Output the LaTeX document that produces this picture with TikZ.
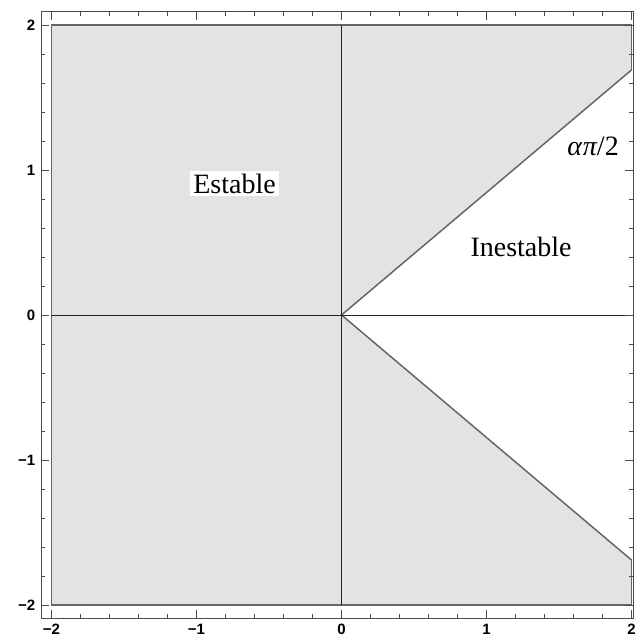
\documentclass[tikz,border=0pt]{standalone}
\usepackage{fontspec}
\setmainfont{Liberation Serif}
\newfontfamily\ticksfont{Liberation Sans}
\tikzset{
  region/.style={line width=1.8pt, black!60},
  axisline/.style={line width=0.9pt, black!85},
  frameline/.style={line width=0.9pt, black!70},
  ticklabel/.style={inner sep=0pt, font=\ticksfont\bfseries\fontsize{15}{17}\selectfont},
  bigtext/.style={font=\fontsize{28}{30}\selectfont}
}

\begin{document}
\begin{tikzpicture}[x=145pt, y=145pt]
\useasboundingbox (-2.355,-2.241) rectangle (2.024,2.172);
% stable region (shaded)
\fill[gray!22] (-2,-2) -- (2,-2) -- (2,-1.69) -- (0,0) -- (2,1.69) -- (2,2) -- (-2,2) -- cycle;
\draw[region, line width=1.5pt] (2,1.69) -- (0,0) -- (2,-1.69);
\draw[region] (2,1.69) -- (2,2) -- (-2,2) -- (-2,-2) -- (2,-2) -- (2,-1.69);
% axes
\draw[axisline] (-2,0) -- (2,0);
\draw[axisline] (0,-2) -- (0,2);
% frame and ticks
\draw[frameline] (-2.072,-2.090) rectangle (2.010,2.090);
\foreach \t in {-2,-1.8,...,2.01} {
  \draw[frameline, line width=0.6pt] (\t,-2.090) -- ++(0,0.03);
  \draw[frameline, line width=0.6pt] (\t,2.090) -- ++(0,-0.03);
  \draw[frameline, line width=0.6pt] (-2.072,\t) -- ++(0.03,0);
  \draw[frameline, line width=0.6pt] (2.010,\t) -- ++(-0.03,0);
}
\foreach \t in {-2,-1,0,1,2} {
  \draw[frameline, line width=0.6pt] (\t,-2.090) -- ++(0,0.055);
  \draw[frameline, line width=0.6pt] (\t,2.090) -- ++(0,-0.055);
  \draw[frameline, line width=0.6pt] (-2.072,\t) -- ++(0.055,0);
  \draw[frameline, line width=0.6pt] (2.010,\t) -- ++(-0.055,0);
}
% tick labels
\node[ticklabel, anchor=east] (ylab2) at (-2.11,2) {2};
\node[ticklabel, anchor=east] (ylab1) at (-2.11,1) {1};
\node[ticklabel, anchor=east] (ylab0) at (-2.11,0) {0};
\node[ticklabel, anchor=east] (ylabm1) at (-2.11,-1) {−1};
\node[ticklabel, anchor=east] (ylabm2) at (-2.11,-2) {−2};
\node[ticklabel, anchor=north] (xlabm2) at (-2,-2.13) {−2};
\node[ticklabel, anchor=north] (xlabm1) at (-1,-2.13) {−1};
\node[ticklabel, anchor=north] (xlab0) at (0,-2.13) {0};
\node[ticklabel, anchor=north] (xlab1) at (1,-2.13) {1};
\node[ticklabel, anchor=north] (xlab2) at (2,-2.13) {2};
% region labels
\node[bigtext, anchor=base, fill=white, inner sep=3pt] (estable) at (-0.738,0.841) {Estable};
\node[bigtext, anchor=base, inner sep=0pt] (inestable) at (1.238,0.40) {Inestable};
\node[bigtext, anchor=base west, inner sep=0pt] (angle) at (1.555,1.103) {{\itshape α\kern1ptπ}/2};
\end{tikzpicture}
\end{document}
